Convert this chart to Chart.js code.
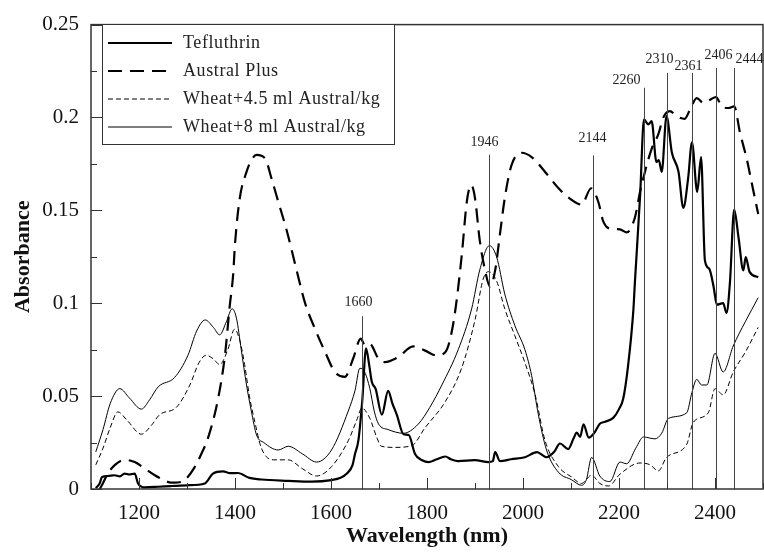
<!DOCTYPE html>
<html>
<head>
<meta charset="utf-8">
<script src="https://cdn.jsdelivr.net/npm/chart.js@4.4.1/dist/chart.umd.min.js"></script>
<style>
  html, body { margin: 0; padding: 0; background: #fff; }
</style>
</head>
<body>
<canvas id="nirChart" width="764" height="553"></canvas>
<script>
// Espectros NIR: [comprimento de onda (nm), absorbância]
const tefluthrin = [
  [1110,0.0005],[1118,0.003],[1123,0.0065],[1135,0.007],[1149,0.0074],[1160,0.0068],[1170,0.0083],
  [1180,0.0078],[1191,0.0083],[1198,0.003],[1212,0.0009],[1240,0.0012],[1267,0.0016],[1300,0.002],
  [1337,0.003],[1354,0.0083],[1375,0.0095],[1390,0.0085],[1406,0.0086],[1430,0.006],[1455,0.0051],
  [1511,0.0044],[1560,0.004],[1601,0.0048],[1620,0.006],[1633,0.0083],[1645,0.013],[1650,0.0189],
  [1657,0.026],[1665,0.047],[1673,0.0757],[1680,0.066],[1685,0.0577],[1693,0.0539],[1706,0.040],
  [1719,0.0528],[1728,0.046],[1737,0.040],[1751,0.0295],[1762,0.0291],[1775,0.0189],[1790,0.0155],
  [1803,0.0145],[1820,0.016],[1838,0.0175],[1850,0.016],[1865,0.015],[1900,0.0155],[1928,0.0145],
  [1937,0.015],[1942,0.0198],[1952,0.015],[1975,0.016],[2004,0.0171],[2029,0.0198],[2049,0.0171],
  [2065,0.020],[2077,0.0245],[2094,0.0215],[2105,0.027],[2112,0.0304],[2119,0.028],[2126,0.0348],
  [2137,0.0277],[2148,0.030],[2160,0.0351],[2171,0.0362],[2188,0.0383],[2200,0.043],[2209,0.0489],
  [2219,0.0666],[2230,0.0966],[2233,0.1107],[2244,0.158],[2252,0.199],[2261,0.1963],[2268,0.198],
  [2278,0.176],[2283,0.177],[2289,0.1707],[2299,0.2007],[2310,0.1813],[2324,0.1707],[2334,0.1513],
  [2344,0.1672],[2352,0.1866],[2363,0.160],[2371,0.1787],[2379,0.123],[2388,0.1186],[2397,0.109],
  [2404,0.0992],[2417,0.1001],[2424,0.0948],[2431,0.1107],[2440,0.1504],[2449,0.1354],[2459,0.1177],
  [2464,0.1248],[2472,0.1169],[2490,0.114]
];

const australPlus = [
  [1118,0.000],[1121,0.0012],[1135,0.0083],[1150,0.013],[1170,0.0157],[1191,0.0145],[1212,0.011],
  [1233,0.0074],[1250,0.005],[1267,0.0034],[1280,0.0035],[1295,0.0048],[1316,0.0118],[1330,0.019],
  [1344,0.0277],[1365,0.0489],[1379,0.0719],[1389,0.0984],[1396,0.115],[1400,0.1319],[1410,0.1566],
  [1424,0.1707],[1434,0.177],[1445,0.1799],[1463,0.1778],[1476,0.1672],[1490,0.1548],[1508,0.1389],
  [1525,0.1213],[1546,0.1001],[1567,0.086],[1588,0.0736],[1608,0.063],[1629,0.0604],[1646,0.0701],
  [1662,0.081],[1671,0.0772],[1681,0.078],[1699,0.0701],[1712,0.0683],[1740,0.071],[1771,0.0768],
  [1796,0.0745],[1820,0.0719],[1838,0.0736],[1855,0.0895],[1872,0.1248],[1883,0.1548],[1892,0.1637],
  [1900,0.1566],[1910,0.1336],[1921,0.1177],[1931,0.109],[1942,0.1177],[1952,0.1372],[1962,0.1566],
  [1976,0.1743],[1997,0.181],[2018,0.1787],[2046,0.1707],[2074,0.1619],[2101,0.1557],[2122,0.1531],
  [2142,0.1619],[2157,0.1545],[2167,0.1442],[2181,0.1402],[2202,0.1398],[2216,0.1381],[2233,0.146],
  [2244,0.1601],[2254,0.1707],[2268,0.1831],[2282,0.191],[2292,0.1998],[2306,0.2034],[2320,0.2007],
  [2337,0.1993],[2348,0.2043],[2362,0.2104],[2376,0.2078],[2390,0.2096],[2402,0.211],[2414,0.206],
  [2428,0.2051],[2440,0.206],[2452,0.1919],[2466,0.1778],[2476,0.1654],[2490,0.148]
];

const wheat45 = [
  [1110,0.013],[1125,0.022],[1140,0.033],[1156,0.0415],[1175,0.037],[1205,0.0295],[1225,0.034],
  [1243,0.040],[1278,0.044],[1306,0.056],[1325,0.068],[1340,0.072],[1355,0.070],[1368,0.067],
  [1385,0.075],[1399,0.086],[1410,0.080],[1420,0.067],[1430,0.050],[1441,0.0365],[1455,0.022],
  [1480,0.0157],[1511,0.0157],[1540,0.011],[1570,0.007],[1601,0.012],[1636,0.026],[1655,0.038],
  [1664,0.0436],[1681,0.038],[1695,0.028],[1705,0.023],[1733,0.0224],[1768,0.0233],[1796,0.033],
  [1838,0.047],[1872,0.065],[1900,0.091],[1917,0.113],[1928,0.117],[1945,0.112],[1962,0.097],
  [1983,0.0825],[2004,0.068],[2025,0.051],[2046,0.026],[2074,0.012],[2101,0.0065],[2122,0.003],
  [2143,0.0074],[2160,0.003],[2178,0.0016],[2202,0.008],[2244,0.014],[2265,0.013],[2282,0.0097],
  [2299,0.017],[2341,0.024],[2355,0.036],[2386,0.041],[2400,0.054],[2417,0.0507],[2438,0.063],
  [2463,0.0736],[2490,0.087]
];

const wheat8 = [
  [1110,0.020],[1125,0.032],[1140,0.046],[1160,0.054],[1180,0.049],[1205,0.043],[1222,0.048],
  [1240,0.055],[1274,0.060],[1302,0.072],[1320,0.085],[1338,0.091],[1355,0.087],[1368,0.083],
  [1382,0.090],[1394,0.097],[1403,0.092],[1413,0.075],[1424,0.056],[1434,0.042],[1445,0.029],
  [1460,0.025],[1490,0.021],[1511,0.023],[1540,0.019],[1570,0.0145],[1601,0.021],[1636,0.042],
  [1650,0.053],[1660,0.065],[1670,0.063],[1681,0.054],[1690,0.042],[1699,0.035],[1719,0.032],
  [1751,0.030],[1782,0.035],[1806,0.044],[1831,0.056],[1865,0.075],[1893,0.097],[1910,0.118],
  [1930,0.131],[1945,0.125],[1962,0.105],[1983,0.088],[2004,0.075],[2018,0.061],[2032,0.040],
  [2049,0.021],[2074,0.009],[2101,0.005],[2122,0.002],[2132,0.005],[2143,0.017],[2160,0.007],
  [2181,0.004],[2202,0.0145],[2216,0.0136],[2235,0.022],[2251,0.028],[2275,0.027],[2289,0.030],
  [2303,0.038],[2341,0.041],[2352,0.052],[2362,0.059],[2372,0.056],[2383,0.056],[2400,0.073],
  [2417,0.063],[2438,0.077],[2463,0.090],[2490,0.103]
];

// Bandas marcadas: rótulo, posição da linha (nm) e altura do topo
const peakLabels = ['1660', '1946', '2144', '2260', '2310', '2361', '2406', '2444'];
const peakPos    = [1664, 1929, 2145, 2253, 2300, 2353, 2402, 2440];
const peakTop    = [0.093, 0.180, 0.1796, 0.216, 0.224, 0.224, 0.2267, 0.2267];

const xTicks = [1200, 1400, 1600, 1800, 2000, 2200, 2400];
const yTicks = [0, 0.05, 0.1, 0.15, 0.2, 0.25];

const serif = '"Liberation Serif", "Times New Roman", serif';
const toXY = arr => arr.map(p => ({ x: p[0], y: p[1] }));

// deslocamento (px) de cada rótulo em relação ao topo da linha
const labelShift = [[-4,-14],[-5,-12],[-1,-17],[-18,-7],[-8,-14],[-4,-7],[2,-13],[15,-9]];

const marks = {
  id: 'marks',
  afterDatasetsDraw(chart) {
    const { ctx, chartArea: a, scales: { x, y } } = chart;
    ctx.save();

    // linhas verticais das bandas
    ctx.strokeStyle = '#444';
    ctx.lineWidth = 1;
    ctx.fillStyle = '#222';
    ctx.font = '14px ' + serif;
    ctx.textAlign = 'center';
    ctx.textBaseline = 'middle';
    peakPos.forEach((p, i) => {
      const px = Math.round(x.getPixelForValue(p)) + 0.5;
      const top = y.getPixelForValue(peakTop[i]);
      ctx.beginPath();
      ctx.moveTo(px, a.bottom);
      ctx.lineTo(px, top);
      ctx.stroke();
      ctx.fillText(peakLabels[i], px + labelShift[i][0], top + labelShift[i][1]);
    });

    // moldura
    ctx.strokeStyle = '#333';
    ctx.lineWidth = 1.5;
    ctx.strokeRect(a.left, a.top, a.right - a.left, a.bottom - a.top);

    // marcas de escala para dentro
    ctx.lineWidth = 1;
    for (let v = 1100; v <= 2500; v += 100) {
      const px = Math.round(x.getPixelForValue(v)) + 0.5;
      const len = v % 200 === 0 ? 11 : 6;
      ctx.beginPath();
      ctx.moveTo(px, a.bottom);
      ctx.lineTo(px, a.bottom - len);
      ctx.stroke();
    }
    for (let i = 0; i <= 10; i++) {
      const v = i * 0.025;
      const py = Math.round(y.getPixelForValue(v)) + 0.5;
      const len = i % 2 === 0 ? 11 : 6;
      ctx.beginPath();
      ctx.moveTo(a.left, py);
      ctx.lineTo(a.left + len, py);
      ctx.stroke();
    }

    // legenda
    const bx = 102.5, by = 24.5, bw = 292, bh = 120;
    ctx.fillStyle = '#fff';
    ctx.fillRect(bx, by, bw, bh);
    ctx.strokeStyle = '#333';
    ctx.strokeRect(bx, by, bw, bh);
    ctx.font = '18px ' + serif;
    ctx.textAlign = 'left';
    ctx.textBaseline = 'middle';
    if ('letterSpacing' in ctx) ctx.letterSpacing = '0.6px';
    chart.data.datasets.forEach((ds, i) => {
      const ry = 43 + i * 28;
      ctx.strokeStyle = '#000';
      ctx.lineWidth = ds.borderWidth;
      ctx.setLineDash(ds.borderDash || []);
      ctx.beginPath();
      ctx.moveTo(108, ry);
      ctx.lineTo(172, ry);
      ctx.stroke();
      ctx.setLineDash([]);
      ctx.fillStyle = '#222';
      ctx.fillText(ds.label, 183, ry);
    });
    ctx.restore();
  }
};

const ctx = document.getElementById('nirChart').getContext('2d');

new Chart(ctx, {
  type: 'line',
  data: {
    datasets: [
      { label: 'Tefluthrin', data: toXY(tefluthrin), borderColor: '#000', borderWidth: 2.2 },
      { label: 'Austral Plus', data: toXY(australPlus), borderColor: '#000', borderWidth: 2.2, borderDash: [14, 8] },
      { label: 'Wheat+4.5 ml Austral/kg', data: toXY(wheat45), borderColor: '#000', borderWidth: 1, borderDash: [5, 3] },
      { label: 'Wheat+8 ml Austral/kg', data: toXY(wheat8), borderColor: '#000', borderWidth: 1 }
    ]
  },
  options: {
    responsive: false,
    animation: false,
    layout: { padding: { top: 17, right: 1, left: 0, bottom: 0 } },
    elements: {
      point: { radius: 0 },
      line: { cubicInterpolationMode: 'monotone', fill: false }
    },
    plugins: {
      legend: { display: false },
      tooltip: { enabled: false }
    },
    scales: {
      x: {
        type: 'linear',
        min: 1100,
        max: 2500,
        grid: { display: false, drawTicks: false },
        border: { display: false },
        afterBuildTicks: s => { s.ticks = xTicks.map(v => ({ value: v })); },
        afterFit: s => { s.height = 64; },
        ticks: {
          padding: 12,
          color: '#111',
          font: { family: serif, size: 21 },
          maxRotation: 0,
          callback: v => String(v)
        },
        title: {
          display: true,
          text: 'Wavelength (nm)',
          color: '#111',
          font: { family: serif, size: 22, weight: 'bold' },
          padding: { top: 0, bottom: 3 }
        }
      },
      y: {
        min: 0,
        max: 0.25,
        grid: { display: false, drawTicks: false },
        border: { display: false },
        afterBuildTicks: s => { s.ticks = yTicks.map(v => ({ value: v })); },
        afterFit: s => { s.width = 91; },
        ticks: {
          padding: 12,
          color: '#111',
          font: { family: serif, size: 21 },
          callback: v => String(+v.toFixed(2))
        },
        title: {
          display: true,
          text: 'Absorbance',
          color: '#111',
          font: { family: serif, size: 22, weight: 'bold' },
          padding: { top: 10, bottom: 0 }
        }
      }
    }
  },
  plugins: [marks]
});
</script>
</body>
</html>
